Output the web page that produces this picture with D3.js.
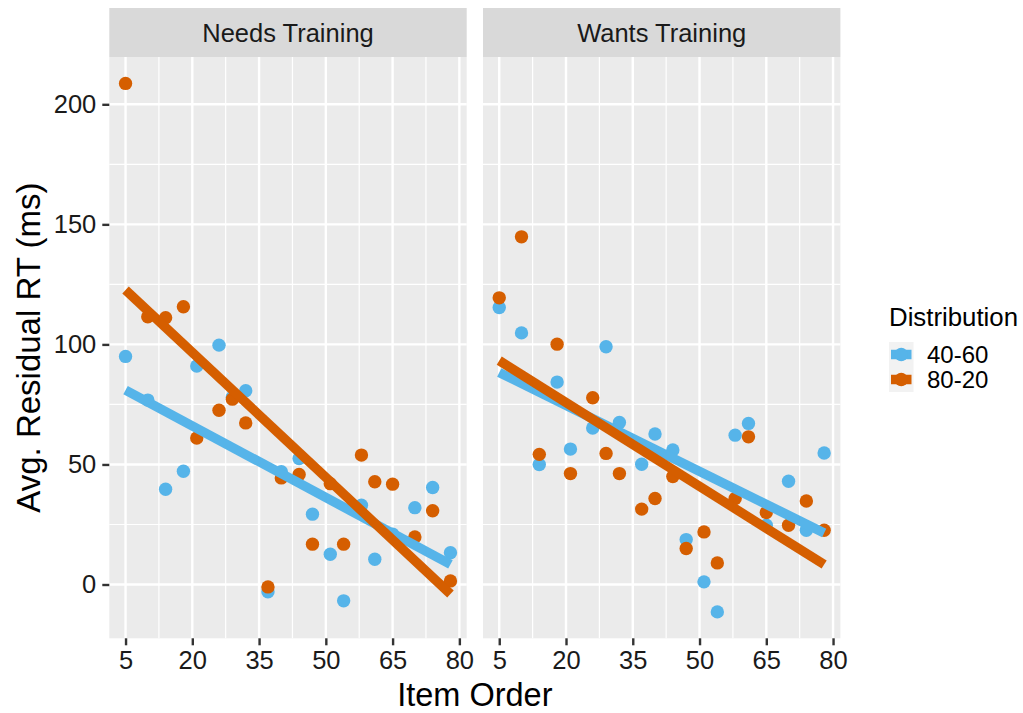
<!DOCTYPE html>
<html>
<head>
<meta charset="utf-8">
<script src="https://cdn.jsdelivr.net/npm/d3@7"></script>
<style>
  body { margin: 0; background: #fff; }
  svg { display: block; font-family: "Liberation Sans", Arial, Helvetica, sans-serif; }
</style>
</head>
<body>
<svg id="chart" width="1023" height="713"></svg>
<script>
// item order (x) shared by every series
const itemOrder = [5, 10, 14, 18, 21, 26, 29, 32, 37, 40, 44, 47, 51, 54, 58, 61, 65, 70, 74, 78];

// Needs Training panel
const needs4060 = [95, 76.8, 39.7, 47.2, 91, 99.7, 78, 80.7, -3, 47, 52.5, 29.3, 12.6, -6.8, 33, 10.5, 21, 32, 40.4, 13.2];
const needs8020 = [208.7, 111.5, 111.1, 115.7, 61, 72.6, 77.2, 67.3, -1, 44.4, 45.8, 16.8, 42, 16.8, 53.9, 42.8, 41.8, 19.8, 30.7, 1.5];

// Wants Training panel
const wants4060 = [115.4, 104.8, 50, 84.3, 56.4, 65.2, 99, 67.5, 50.1, 62.7, 56, 18.7, 1.1, -11.4, 62.2, 67.1, 24.7, 43, 22.6, 54.8];
const wants8020 = [119.4, 144.8, 54.2, 100.1, 46.2, 77.8, 54.6, 46.2, 31.4, 35.8, 45, 15, 21.9, 9, 35.8, 61.5, 30, 24.7, 34.8, 22.6];

const panels = ["Needs Training", "Wants Training"];
const groups = ["40-60", "80-20"];
const colors = ["#56B4E9", "#D55E00"];
const xTicks = [5, 20, 35, 50, 65, 80];
const yTicks = [0, 50, 100, 150, 200];

const panelData = [
  [needs4060, needs8020],
  [wants4060, wants8020]
];

const svg = d3.select("#chart");
const font = "'Liberation Sans', Arial, Helvetica, sans-serif";

const panelTop = 57, panelBottom = 638.3;
const panelLeft = [109.3, 483];
const panelW = 357.4;

// expanded domains like ggplot (5% each side)
const xExt = d3.extent(itemOrder);
const xPad = (xExt[1] - xExt[0]) * 0.05;
const allY = panelData.flat(2);
const yExt = d3.extent(allY);
const yPad = (yExt[1] - yExt[0]) * 0.05;

const y = d3.scaleLinear().domain([yExt[0] - yPad, yExt[1] + yPad]).range([panelBottom, panelTop]);

function fit(xs, ys) {
  const mx = d3.mean(xs), my = d3.mean(ys);
  let sxy = 0, sxx = 0;
  xs.forEach((v, i) => { sxy += (v - mx) * (ys[i] - my); sxx += (v - mx) * (v - mx); });
  const b = sxy / sxx;
  return v => my + b * (v - mx);
}

panels.forEach((name, p) => {
  const x = d3.scaleLinear()
    .domain([xExt[0] - xPad, xExt[1] + xPad])
    .range([panelLeft[p], panelLeft[p] + panelW]);

  const g = svg.append("g");

  g.append("rect")
    .attr("x", panelLeft[p]).attr("y", panelTop)
    .attr("width", panelW).attr("height", panelBottom - panelTop)
    .attr("fill", "#EBEBEB");

  // minor grid
  const xMinor = xTicks.slice(0, -1).map((t, i) => (t + xTicks[i + 1]) / 2);
  const yMinor = yTicks.slice(0, -1).map((t, i) => (t + yTicks[i + 1]) / 2);
  g.selectAll(".xminor").data(xMinor).enter().append("line")
    .attr("x1", d => x(d)).attr("x2", d => x(d))
    .attr("y1", panelTop).attr("y2", panelBottom)
    .attr("stroke", "#fff").attr("stroke-width", 1.2);
  g.selectAll(".yminor").data(yMinor).enter().append("line")
    .attr("x1", panelLeft[p]).attr("x2", panelLeft[p] + panelW)
    .attr("y1", d => y(d)).attr("y2", d => y(d))
    .attr("stroke", "#fff").attr("stroke-width", 1.2);

  // major grid
  g.selectAll(".xmajor").data(xTicks).enter().append("line")
    .attr("x1", d => x(d)).attr("x2", d => x(d))
    .attr("y1", panelTop).attr("y2", panelBottom)
    .attr("stroke", "#fff").attr("stroke-width", 2.4);
  g.selectAll(".ymajor").data(yTicks).enter().append("line")
    .attr("x1", panelLeft[p]).attr("x2", panelLeft[p] + panelW)
    .attr("y1", d => y(d)).attr("y2", d => y(d))
    .attr("stroke", "#fff").attr("stroke-width", 2.4);

  // points
  panelData[p].forEach((series, s) => {
    g.selectAll(".pt" + s).data(series).enter().append("circle")
      .attr("cx", (d, i) => x(itemOrder[i]))
      .attr("cy", d => y(d))
      .attr("r", 6.7)
      .attr("fill", colors[s]);
  });

  // lm lines
  panelData[p].forEach((series, s) => {
    const f = fit(itemOrder, series);
    g.append("line")
      .attr("x1", x(xExt[0])).attr("y1", y(f(xExt[0])))
      .attr("x2", x(xExt[1])).attr("y2", y(f(xExt[1])))
      .attr("stroke", colors[s]).attr("stroke-width", 9.5);
  });

  // strip
  g.append("rect")
    .attr("x", panelLeft[p]).attr("y", 8)
    .attr("width", panelW).attr("height", panelTop - 8)
    .attr("fill", "#D9D9D9");
  g.append("text")
    .attr("x", panelLeft[p] + panelW / 2).attr("y", 41.5)
    .attr("text-anchor", "middle")
    .attr("font-size", 25.5).attr("fill", "#1A1A1A")
    .text(name);

  // x axis
  const xAxis = g.append("g").attr("transform", `translate(0,${panelBottom})`)
    .call(d3.axisBottom(x).tickValues(xTicks).tickSize(7).tickPadding(6));
  xAxis.select(".domain").remove();
  xAxis.selectAll("line").attr("stroke", "#333").attr("stroke-width", 2.4);
  xAxis.selectAll("text").attr("font-size", 25.5).attr("fill", "#1A1A1A")
    .attr("font-family", font);

  if (p === 0) {
    const yAxis = g.append("g").attr("transform", `translate(${panelLeft[p]},0)`)
      .call(d3.axisLeft(y).tickValues(yTicks).tickSize(7).tickPadding(6));
    yAxis.select(".domain").remove();
    yAxis.selectAll("line").attr("stroke", "#333").attr("stroke-width", 2.4);
    yAxis.selectAll("text").attr("font-size", 25.5).attr("fill", "#1A1A1A")
      .attr("font-family", font);
  }
});

// axis titles
svg.append("text")
  .attr("x", (panelLeft[0] + panelLeft[1] + panelW) / 2).attr("y", 706)
  .attr("text-anchor", "middle").attr("font-size", 32.5).attr("fill", "#000")
  .text("Item Order");
svg.append("text")
  .attr("transform", `translate(40,${(panelTop + panelBottom) / 2}) rotate(-90)`)
  .attr("text-anchor", "middle").attr("font-size", 33).attr("fill", "#000")
  .text("Avg. Residual RT (ms)");

// legend
const lg = svg.append("g").attr("transform", "translate(889,0)");
lg.append("text").attr("x", 0).attr("y", 326)
  .attr("font-size", 25.8).attr("fill", "#000").text("Distribution");
groups.forEach((gName, i) => {
  const ky = 342 + i * 25;
  lg.append("rect").attr("x", 0).attr("y", ky).attr("width", 24.5).attr("height", 25)
    .attr("fill", "#F2F2F2");
  lg.append("line").attr("x1", 2).attr("x2", 22.5).attr("y1", ky + 12.5).attr("y2", ky + 12.5)
    .attr("stroke", colors[i]).attr("stroke-width", 9.5);
  lg.append("circle").attr("cx", 12.25).attr("cy", ky + 12.5).attr("r", 6.7)
    .attr("fill", colors[i]);
  lg.append("text").attr("x", 38).attr("y", ky + 12.5).attr("dy", "0.36em")
    .attr("font-size", 24).attr("fill", "#000").text(gName);
});
</script>
</body>
</html>
